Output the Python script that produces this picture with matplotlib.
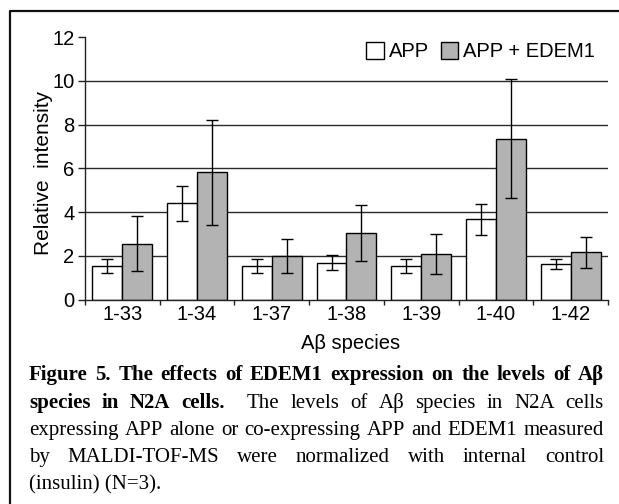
import numpy as np
import matplotlib
matplotlib.use("Agg")
import matplotlib.pyplot as plt
from matplotlib.lines import Line2D

plt.rcParams['font.family'] = ['Liberation Sans', 'DejaVu Sans']

# Data
species = ["1-33", "1-34", "1-37", "1-38", "1-39", "1-40", "1-42"]
app = [1.52, 4.41, 1.52, 1.69, 1.52, 3.67, 1.62]
app_err = [0.33, 0.80, 0.33, 0.34, 0.33, 0.70, 0.23]
edem = [2.56, 5.82, 2.00, 3.05, 2.09, 7.36, 2.16]
edem_err = [1.24, 2.41, 0.79, 1.28, 0.91, 2.72, 0.72]
series_names = ["APP", "APP + EDEM1"]
y_ticks = [0, 2, 4, 6, 8, 10, 12]

caption_lines = [
    [("Figure 5. The effects of EDEM1 expression on the levels of A\u03b2", True)],
    [("species in N2A cells.", True), ("The levels of A\u03b2 species in N2A cells", False)],
    [("expressing APP alone or co-expressing APP and EDEM1 measured", False)],
    [("by MALDI-TOF-MS were normalized with internal control", False)],
    [("(insulin) (N=3).", False)],
]

W, H = 619, 504
fig = plt.figure(figsize=(W / 100, H / 100), dpi=100)
ax = fig.add_axes([85 / W, 1 - 299.5 / H, 523 / W, 262.2 / H])

x = np.arange(len(species))
bw = 0.4
ax.set_axisbelow(True)
ax.bar(x - bw / 2, app, bw, color="white", edgecolor="black", linewidth=1.0,
       label=series_names[0], zorder=2)
ax.bar(x + bw / 2, edem, bw, color="#b3b3b3", edgecolor="black", linewidth=1.0,
       label=series_names[1], zorder=2)
ax.errorbar(x - bw / 2, app, yerr=app_err, fmt="none", ecolor="black",
            elinewidth=1.0, capsize=4, capthick=1.0, zorder=3)
ax.errorbar(x + bw / 2, edem, yerr=edem_err, fmt="none", ecolor="black",
            elinewidth=1.0, capsize=4, capthick=1.0, zorder=3)

ax.set_xlim(-0.5, len(species) - 0.5)
ax.set_ylim(0, 12)
ax.set_yticks(y_ticks)
ax.set_yticklabels([str(v) for v in y_ticks], fontsize=14.5)
for v in y_ticks[1:-1]:
    ax.axhline(v, color="#2a2a2a", linewidth=1.0, zorder=1)

ax.set_xticks(x)
ax.set_xticklabels(species, fontsize=14.5)
ax.set_xticks(np.arange(-0.5, len(species)), minor=True)
ax.tick_params(axis="x", which="major", length=0, pad=4.0)
ax.tick_params(axis="x", which="minor", length=3.6, width=1.0, color="#222222")
ax.tick_params(axis="y", length=5, width=1.0, pad=2.5, color="#222222")

for s in ["top", "right"]:
    ax.spines[s].set_visible(False)
for s in ["left", "bottom"]:
    ax.spines[s].set_linewidth(1.0)
    ax.spines[s].set_color("#222222")

ax.set_xlabel("A\u03b2 species", fontsize=14.5, va="top")
ax.xaxis.set_label_coords((351 - 85) / 523, (299.5 - 334) / 262.2)
ax.set_ylabel("Relative  intensity", fontsize=15)
ax.yaxis.set_label_coords((53.5 - 85) / 523, (299.5 - 173) / 262.2)

ax.legend(loc="center left", bbox_to_anchor=(366 / W, 1 - 51.5 / H),
          bbox_transform=fig.transFigure, ncol=2, frameon=False, fontsize=14.5,
          handlelength=0.87, handleheight=0.93, handletextpad=0.25,
          columnspacing=0.6, borderpad=0, borderaxespad=0)

# border around the figure panel (left and top only visible)
fig.add_artist(Line2D([10 / W, 10 / W, 1.0], [0.0, 1 - 11 / H, 1 - 11 / H],
                      transform=fig.transFigure, color="#111111", linewidth=1.6))

# caption, justified
renderer = fig.canvas.get_renderer()
left_px, right_px = 29, 604
baselines = [380, 408.3, 435, 461.7, 489]
cap_size = 15
for i, segs in enumerate(caption_lines):
    y = 1 - baselines[i] / H
    if i == len(caption_lines) - 1:
        fig.text(left_px / W, y, segs[0][0], fontsize=cap_size,
                 family="Liberation Serif", va="baseline", ha="left")
        continue
    words, gaps = [], []
    for j, (txt, bold) in enumerate(segs):
        parts = txt.split(" ")
        for k, p in enumerate(parts):
            if words:
                gaps.append(2.0 if k == 0 and j > 0 else 1.0)
            t = fig.text(0, y, p, fontsize=cap_size, family="Liberation Serif",
                         fontweight="bold" if bold else "normal",
                         va="baseline", ha="left")
            words.append(t)
    widths = [t.get_window_extent(renderer).width for t in words]
    unit = (right_px - left_px - sum(widths)) / sum(gaps)
    pos = left_px
    for k, t in enumerate(words):
        t.set_x(pos / W)
        pos += widths[k]
        if k < len(gaps):
            pos += unit * gaps[k]

fig.savefig("out.png", dpi=100)
